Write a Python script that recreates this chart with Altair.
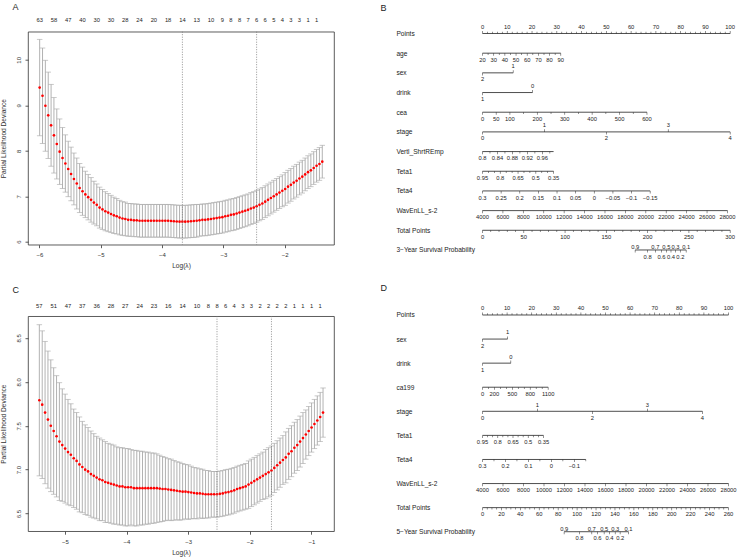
import json

import altair as alt
import numpy as np
import pandas as pd

FONT = "Liberation Sans"
INK = "#222222"
GREY = "#a9a9a9"
MINUS = "\u2212"

# ---------------------------------------------------------------- panel A
# 10-fold CV of the lasso Cox model (3-year): mean deviance and its SE per lambda
a_loglam_span = (-5.994, -1.387)
a_cvm = [9.39, 9.21, 8.99, 8.78, 8.56, 8.34, 8.15, 7.98, 7.84, 7.72,
         7.60, 7.49, 7.38, 7.28, 7.18, 7.11, 7.04, 6.98, 6.92, 6.86,
         6.81, 6.75, 6.71, 6.67, 6.64, 6.61, 6.58, 6.56, 6.53, 6.51,
         6.50, 6.48, 6.48, 6.47, 6.47, 6.46, 6.46, 6.46, 6.46, 6.46,
         6.46, 6.46, 6.46, 6.46, 6.46, 6.46, 6.455, 6.45, 6.445, 6.44,
         6.44, 6.44, 6.445, 6.45, 6.455, 6.46, 6.47, 6.48, 6.48, 6.49,
         6.50, 6.51, 6.52, 6.53, 6.54, 6.56, 6.57, 6.59, 6.60, 6.62,
         6.64, 6.66, 6.68, 6.70, 6.73, 6.75, 6.78, 6.81, 6.84, 6.88,
         6.92, 6.96, 7.00, 7.04, 7.08, 7.12, 7.16, 7.21, 7.25, 7.30,
         7.34, 7.39, 7.43, 7.48, 7.53, 7.57, 7.62, 7.67, 7.71, 7.76]
a_cvsd = [1.06, 1.05, 1.00, 0.95, 0.90, 0.83, 0.77, 0.72, 0.67, 0.63,
          0.61, 0.59, 0.57, 0.56, 0.54, 0.53, 0.51, 0.50, 0.49, 0.47,
          0.46, 0.45, 0.44, 0.43, 0.42, 0.41, 0.40, 0.39, 0.38, 0.37,
          0.37, 0.36, 0.36, 0.36, 0.36, 0.36, 0.36, 0.36, 0.36, 0.36,
          0.36, 0.36, 0.36, 0.36, 0.36, 0.36, 0.36, 0.36, 0.36, 0.36,
          0.36, 0.36, 0.36, 0.36, 0.36, 0.36, 0.35, 0.35, 0.35, 0.35,
          0.35, 0.35, 0.35, 0.35, 0.35, 0.35, 0.35, 0.35, 0.35, 0.35,
          0.35, 0.35, 0.35, 0.35, 0.35, 0.35, 0.35, 0.35, 0.35, 0.35,
          0.35, 0.35, 0.35, 0.35, 0.35, 0.35, 0.36, 0.36, 0.36, 0.36,
          0.36, 0.36, 0.36, 0.36, 0.36, 0.36, 0.36, 0.36, 0.36, 0.36]
a_nzero_at = [0, 5, 10, 15, 20, 25, 30, 35, 40, 45, 50, 55, 60,
              64, 67, 70, 73, 76, 79, 82, 85, 88, 91, 94, 97]
a_nzero = ["63", "58", "47", "40", "30", "30", "28", "24", "20", "18", "14", "13", "10",
           "9", "8", "8", "7", "6", "6", "5", "4", "3", "3", "1", "1"]
a_chosen = [50, 76]   # lambda.min, lambda.1se

# ---------------------------------------------------------------- panel C
c_loglam_span = (-5.415, -0.81)
c_cvm = [7.79, 7.74, 7.65, 7.57, 7.50, 7.44, 7.38, 7.32, 7.28, 7.24,
         7.20, 7.17, 7.13, 7.10, 7.06, 7.03, 7.00, 6.98, 6.95, 6.93,
         6.91, 6.89, 6.88, 6.86, 6.85, 6.84, 6.83, 6.82, 6.81, 6.81,
         6.80, 6.80, 6.80, 6.79, 6.79, 6.79, 6.79, 6.79, 6.79, 6.79,
         6.79, 6.79, 6.785, 6.78, 6.78, 6.775, 6.77, 6.765, 6.76, 6.755,
         6.75, 6.75, 6.745, 6.74, 6.735, 6.73, 6.73, 6.725, 6.72, 6.72,
         6.72, 6.72, 6.72, 6.725, 6.73, 6.74, 6.745, 6.755, 6.765, 6.78,
         6.79, 6.80, 6.81, 6.83, 6.85, 6.87, 6.89, 6.91, 6.93, 6.95,
         6.97, 6.99, 7.02, 7.05, 7.08, 7.11, 7.14, 7.18, 7.21, 7.25,
         7.28, 7.32, 7.36, 7.40, 7.44, 7.48, 7.52, 7.56, 7.60, 7.65]
c_cvsd = [0.86, 0.84, 0.81, 0.78, 0.75, 0.72, 0.69, 0.67, 0.64, 0.62,
          0.60, 0.58, 0.56, 0.55, 0.54, 0.52, 0.51, 0.50, 0.49, 0.48,
          0.47, 0.47, 0.46, 0.46, 0.45, 0.45, 0.45, 0.44, 0.44, 0.44,
          0.44, 0.44, 0.43, 0.43, 0.43, 0.42, 0.42, 0.41, 0.41, 0.40,
          0.40, 0.39, 0.38, 0.37, 0.36, 0.35, 0.35, 0.34, 0.33, 0.33,
          0.32, 0.31, 0.31, 0.30, 0.29, 0.29, 0.28, 0.28, 0.27, 0.27,
          0.26, 0.26, 0.26, 0.26, 0.26, 0.26, 0.26, 0.26, 0.26, 0.26,
          0.26, 0.26, 0.26, 0.27, 0.27, 0.27, 0.27, 0.27, 0.27, 0.28,
          0.28, 0.28, 0.28, 0.28, 0.28, 0.28, 0.29, 0.29, 0.29, 0.29,
          0.29, 0.29, 0.29, 0.28, 0.28, 0.28, 0.28, 0.28, 0.28, 0.28]
c_nzero_at = [0, 5, 10, 15, 20, 25, 30, 35, 40, 45, 50, 55, 59,
              62, 65, 68, 71, 74, 77, 80, 83, 86, 89, 92, 95, 98]
c_nzero = ["57", "51", "47", "37", "36", "28", "27", "24", "23", "16", "14", "10", "8",
           "8", "6", "4", "3", "3", "2", "2", "2", "2", "1", "1", "1", "1"]
c_chosen = [62, 81]

# ---------------------------------------------------------------- nomogram B (3-year)
# each scale is linear: first value sits at 0 points, last value at `pts` points
b_points = ["0", "10", "20", "30", "40", "50", "60", "70", "80", "90", "100"]
b_age = ["20", "30", "40", "50", "60", "70", "80", "90"]
b_age_ticks = [20, 25, 30, 35, 40, 45, 50, 55, 60, 65, 70, 75, 80, 85, 90]
b_age_pts = 31.6
b_sex_pts = 12.4
b_drink_pts = 20.2
b_cea = ["0", "50", "100", "200", "300", "400", "500", "600"]
b_cea_ticks = [0, 50, 100, 150, 200, 250, 300, 350, 400, 450, 500, 550, 600]
b_cea_pts = 66.4
b_stage_pts = 100.0
b_vertl = ["0.8", "0.84", "0.88", "0.92", "0.96"]
b_vertl_ticks = [0.80, 0.82, 0.84, 0.86, 0.88, 0.90, 0.92, 0.94, 0.96, 0.98]
b_vertl_end, b_vertl_pts = 0.99, 28.7
b_teta1 = ["0.95", "0.8", "0.65", "0.5", "0.35"]
b_teta1_ticks = [0.95, 0.90, 0.85, 0.80, 0.75, 0.70, 0.65, 0.60, 0.55, 0.50, 0.45, 0.40, 0.35]
b_teta1_pts = 28.7
b_teta4 = ["0.3", "0.25", "0.2", "0.15", "0.1", "0.05", "0",
           MINUS + "0.05", MINUS + "0.1", MINUS + "0.15"]
b_teta4_pts = 67.7
b_wav = ["4000", "6000", "8000", "10000", "12000", "14000", "16000",
         "18000", "20000", "22000", "24000", "26000", "28000"]
b_wav_pts = 98.9
b_total = ["0", "50", "100", "150", "200", "250", "300"]
b_total_ticks = list(range(0, 301, 10))
b_surv = ["0.9", "0.8", "0.7", "0.6", "0.5", "0.4", "0.3", "0.2", "0.1"]
b_surv_at = [184.9, 200.0, 209.4, 216.7, 222.7, 228.3, 233.7, 239.6, 246.7]

# ---------------------------------------------------------------- nomogram D (5-year)
d_points = b_points
d_sex_pts = 10.2
d_drink_pts = 11.5
d_ca199 = ["0", "200", "500", "800", "1100"]
d_ca199_ticks = [0, 100, 200, 300, 400, 500, 600, 700, 800, 900, 1000, 1100]
d_ca199_pts = 26.7
d_stage_pts = 89.4
d_teta1 = b_teta1
d_teta1_ticks = b_teta1_ticks
d_teta1_pts = 24.8
d_teta4 = ["0.3", "0.2", "0.1", "0", MINUS + "0.1"]
d_teta4_ticks = [0.30, 0.25, 0.20, 0.15, 0.10, 0.05, 0.0, -0.05, -0.10, -0.15]
d_teta4_pts = 42.0
d_wav = b_wav
d_wav_pts = 100.0
d_total = ["0", "20", "40", "60", "80", "100", "120", "140", "160", "180",
           "200", "220", "240", "260"]
d_total_ticks = list(range(0, 261, 5))
d_surv = b_surv
d_surv_at = [86.3, 102.5, 115.5, 121.5, 128.6, 134.2, 140.3, 145.5, 154.3]


def num(t):
    return float(t.replace(MINUS, "-"))


def scale(name, labels, sides, lo, hi, pts, ticks=None, at=None, end=None, tickdir=None):
    """One nomogram line: value lo -> 0 points, value hi -> pts points."""
    return dict(name=name, labels=labels, sides=sides, lo=lo, hi=hi, pts=pts,
                ticks=ticks, at=at, end=end, tickdir=tickdir)


def build(specs):
    lines, ticks, labs = [], [], []
    for i, s in enumerate(specs):
        lo, hi, pts = s["lo"], s["hi"], s["pts"]

        def to_pts(v):
            return (v - lo) / (hi - lo) * pts

        at = s["at"] if s["at"] is not None else [num(t) for t in s["labels"]]
        sides = list(s["sides"]) if len(s["sides"]) == len(s["labels"]) else [s["sides"]] * len(at)
        tv = s["ticks"] if s["ticks"] is not None else at
        side_of = {round(v, 6): sd for v, sd in zip(at, sides)}
        for v in tv:
            sd = side_of.get(round(v, 6), sides[0])
            d = s["tickdir"] or ("up" if sd in "au" else "down")
            ticks.append({"row": i, "x": to_pts(v), "dir": d,
                          "kind": "major" if round(v, 6) in side_of else "minor"})
        xs = [to_pts(v) for v in list(tv) + list(at)]
        if s["end"] is not None:
            xs.append(to_pts(s["end"]))
        lines.append({"row": i, "x0": min(xs), "x1": max(xs)})
        for v, t, sd in zip(at, s["labels"], sides):
            labs.append({"row": i, "x": to_pts(v), "text": t, "side": sd})
    return pd.DataFrame(lines), pd.DataFrame(ticks), pd.DataFrame(labs)


def nomogram(letter, specs, width, row_step, top_gap, tag_y):
    names = [s["name"] for s in specs]
    n = len(names)
    lines, ticks, labs = build(specs)
    xs = alt.Scale(domain=[0, 100], nice=False, zero=False)
    ys = alt.Scale(domain=[n - 1, -top_gap / row_step], nice=False, zero=False)
    yax = alt.Axis(values=list(range(n)), labelExpr=json.dumps(names, ensure_ascii=False) + "[datum.value]",
                   domain=False, ticks=False, grid=False, title=None, labelAlign="left",
                   labelBaseline="middle", labelPadding=86.6, labelFont=FONT, labelFontSize=6.6,
                   labelColor=INK, labelOverlap=False, labelFlush=False, labelBound=False)

    def X(f):
        return alt.X(f, type="quantitative", scale=xs, axis=None)

    def Y(f):
        return alt.Y(f, type="quantitative", scale=ys, axis=yax)

    layers = [alt.Chart(lines).mark_rule(color=INK, strokeWidth=0.8)
              .encode(x=X("x0"), x2="x1", y=Y("row"))]
    for d, off in (("up", -1), ("down", 1)):
        for kind, size in (("major", 2.6), ("minor", 1.8)):
            sub = ticks[(ticks["dir"] == d) & (ticks["kind"] == kind)]
            if len(sub):
                layers.append(alt.Chart(sub).mark_tick(orient="vertical", size=size, thickness=0.7,
                                                       color=INK, yOffset=off * size / 2)
                              .encode(x=X("x"), y=Y("row")))
    for side, dy in (("a", -6.6), ("b", 6.6), ("u", -3.2)):
        sub = labs[labs["side"] == side]
        if len(sub):
            layers.append(alt.Chart(sub).mark_text(font=FONT, fontSize=5.8, color=INK,
                                                   baseline="middle", dy=dy)
                          .encode(x=X("x"), y=Y("row"), text="text:N"))
    layers.append(alt.Chart(pd.DataFrame({"t": [letter]}))
                  .mark_text(font=FONT, fontSize=9, color=INK, align="left", baseline="top")
                  .encode(x=alt.value(-102), y=alt.value(tag_y), text="t:N"))
    return alt.layer(*layers).properties(width=width, height=(n - 1) * row_step + top_gap,
                                         view=alt.ViewBackground(strokeOpacity=0))


def cv_panel(letter, span, cvm, cvsd, nz_at, nz, chosen, xdom, ydom, xvals, yvals, yfmt,
             width, height, count_y, tag_y):
    loglam = np.linspace(span[0], span[1], len(cvm))
    mean = np.asarray(cvm)
    sd = np.asarray(cvsd)
    df = pd.DataFrame({"loglam": loglam, "cvm": mean, "lo": mean - sd, "hi": mean + sd})
    xs = alt.Scale(domain=xdom, nice=False, zero=False)
    ys = alt.Scale(domain=ydom, nice=False, zero=False)
    common = dict(grid=False, domain=False, tickSize=3, tickColor="#333", tickWidth=0.8,
                  labelFont=FONT, labelFontSize=6, labelColor="#333", titleFont=FONT,
                  titleFontSize=6.6, titleFontWeight="normal", titleColor="#333")
    xax = alt.Axis(values=xvals, format="d", title="Log(\u03bb)", labelPadding=4, titlePadding=5,
                   **common)
    yax = alt.Axis(values=yvals, format=yfmt, title="Partial Likelihood Deviance",
                   labelAngle=270, labelAlign="center", labelBaseline="bottom", labelPadding=4,
                   titlePadding=8.5, **common)

    def X(f):
        return alt.X(f, type="quantitative", scale=xs, axis=xax)

    def Y(f):
        return alt.Y(f, type="quantitative", scale=ys, axis=yax)

    base = alt.Chart(df)
    bars = base.mark_rule(color=GREY, strokeWidth=0.9).encode(x=X("loglam"), y=Y("lo"), y2="hi")
    cap_lo = base.mark_tick(orient="horizontal", color=GREY, size=5.5, thickness=0.9).encode(
        x=X("loglam"), y=Y("lo"))
    cap_hi = base.mark_tick(orient="horizontal", color=GREY, size=5.5, thickness=0.9).encode(
        x=X("loglam"), y=Y("hi"))
    dots = base.mark_circle(color="red", size=7, opacity=1).encode(x=X("loglam"), y=Y("cvm"))
    vlines = (alt.Chart(pd.DataFrame({"loglam": loglam[chosen]}))
              .mark_rule(color="#777", strokeDash=[1, 1.5], strokeWidth=0.8)
              .encode(x=X("loglam")))
    counts = (alt.Chart(pd.DataFrame({"loglam": loglam[nz_at], "nz": nz}))
              .mark_text(font=FONT, fontSize=5.8, color=INK, baseline="middle")
              .encode(x=X("loglam"), y=alt.value(count_y), text="nz:N"))
    tag = (alt.Chart(pd.DataFrame({"t": [letter]}))
           .mark_text(font=FONT, fontSize=9, color=INK, align="left", baseline="top")
           .encode(x=alt.value(-15.5), y=alt.value(tag_y), text="t:N"))
    return alt.layer(bars, cap_lo, cap_hi, dots, vlines, counts, tag).properties(
        width=width, height=height, view=alt.ViewBackground(stroke="#333", strokeWidth=0.8))


panel_a = cv_panel("A", a_loglam_span, a_cvm, a_cvsd, a_nzero_at, a_nzero, a_chosen,
                   [-6.184, -1.196], [5.934, 10.619], [-6, -5, -4, -3, -2], [6, 7, 8, 9, 10], "d",
                   306, 213, -11.5, -29)
panel_c = cv_panel("C", c_loglam_span, c_cvm, c_cvsd, c_nzero_at, c_nzero, c_chosen,
                   [-5.599, -0.632], [6.30, 8.747], [-5, -4, -3, -2, -1],
                   [6.5, 7.0, 7.5, 8.0, 8.5], ".1f", 306, 215, -10, -30)

b_specs = [
    scale("Points", b_points, "a", 0, 100, 100, ticks=list(range(0, 101, 2))),
    scale("age", b_age, "b", 20, 90, b_age_pts, ticks=b_age_ticks),
    scale("sex", ["2", "1"], "ba", 2, 1, b_sex_pts),
    scale("drink", ["1", "0"], "ba", 1, 0, b_drink_pts),
    scale("cea", b_cea, "b", 0, 600, b_cea_pts, ticks=b_cea_ticks),
    scale("stage", ["0", "1", "2", "3", "4"], "babab", 0, 4, b_stage_pts),
    scale("Vertl_ShrtREmp", b_vertl, "b", 0.80, b_vertl_end, b_vertl_pts, ticks=b_vertl_ticks,
          end=b_vertl_end),
    scale("Teta1", b_teta1, "b", 0.95, 0.35, b_teta1_pts, ticks=b_teta1_ticks),
    scale("Teta4", b_teta4, "b", 0.3, -0.15, b_teta4_pts),
    scale("WavEnLL_s-2", b_wav, "b", 4000, 28000, b_wav_pts),
    scale("Total Points", b_total, "b", 0, 300, 100, ticks=b_total_ticks),
    scale("3" + MINUS + "Year Survival Probability", b_surv, "ububububu",
          0, 300, 100, at=b_surv_at, tickdir="down"),
]
d_specs = [
    scale("Points", d_points, "a", 0, 100, 100, ticks=list(range(0, 101, 2))),
    scale("sex", ["2", "1"], "ba", 2, 1, d_sex_pts),
    scale("drink", ["1", "0"], "ba", 1, 0, d_drink_pts),
    scale("ca199", d_ca199, "b", 0, 1100, d_ca199_pts, ticks=d_ca199_ticks),
    scale("stage", ["0", "1", "2", "3", "4"], "babab", 0, 4, d_stage_pts),
    scale("Teta1", d_teta1, "b", 0.95, 0.35, d_teta1_pts, ticks=d_teta1_ticks),
    scale("Teta4", d_teta4, "b", 0.3, -0.15, d_teta4_pts, ticks=d_teta4_ticks),
    scale("WavEnLL_s-2", d_wav, "b", 4000, 28000, d_wav_pts),
    scale("Total Points", d_total, "b", 0, 260, 100, ticks=d_total_ticks),
    scale("5" + MINUS + "Year Survival Probability", d_surv, "ububububu",
          0, 260, 100, at=d_surv_at, tickdir="down"),
]

panel_b = nomogram("B", b_specs, 247.7, 19.68, 1.8, -27.7)
panel_d = nomogram("D", d_specs, 246, 24.08, 0, -31.3)

left = alt.vconcat(panel_a, panel_c, spacing=15.5)
right = alt.vconcat(panel_b, panel_d, spacing=23.3)
chart = (alt.hconcat(left, right, spacing=45.5)
         .properties(padding={"left": 0, "top": 1.7, "right": 0, "bottom": 0}, background="white"))

chart.save("out.html", embed_options={"renderer": "svg", "actions": False})
